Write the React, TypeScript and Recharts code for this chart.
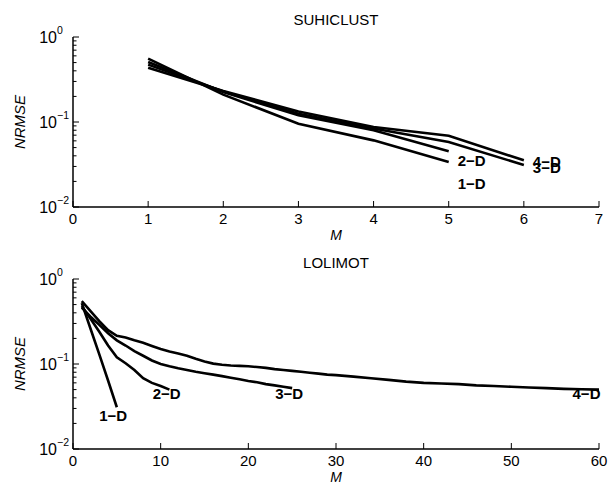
import React from 'react';
import { LineChart, Line, XAxis, YAxis, LabelList } from 'recharts';

// ---------- data ----------
const suhiM = [1, 2, 3, 4, 5, 6];
const suhi1D = [0.556, 0.21, 0.0955, 0.0608, 0.0339];
const suhi2D = [0.508, 0.225, 0.12, 0.08, 0.0452];
const suhi3D = [0.473, 0.228, 0.125, 0.084, 0.0582, 0.0312];
const suhi4D = [0.436, 0.232, 0.133, 0.0873, 0.069, 0.0354];

const loli1DM = [1, 2, 3, 4, 5];
const loli1D = [0.52, 0.26, 0.13, 0.064, 0.031];
const loli2DM = [1, 2, 3, 4, 5, 6, 7, 8, 9, 10, 11];
const loli2D = [0.48, 0.34, 0.24, 0.165, 0.12, 0.102, 0.085, 0.068, 0.06, 0.055, 0.05];
const loli3DM = [1, 2, 3, 4, 5, 6, 7, 8, 9, 10, 11, 12, 13, 14, 15, 16, 17, 18, 19, 20, 21, 22, 23, 24, 25];
const loli3D = [0.46, 0.36, 0.29, 0.23, 0.19, 0.165, 0.142, 0.125, 0.11, 0.1, 0.094, 0.089, 0.085, 0.081, 0.078, 0.075, 0.072, 0.069, 0.066, 0.063, 0.061, 0.058, 0.056, 0.054, 0.052];
const loli4DM = [1, 2, 3, 4, 5, 6, 7, 8, 9, 10, 11, 12, 13, 14, 15, 16, 17, 18, 19, 20, 21, 22, 23, 24, 25, 26, 27, 28, 29, 30, 32, 34, 36, 38, 40, 42, 44, 46, 48, 50, 52, 54, 56, 58, 60];
const loli4D = [0.55, 0.42, 0.32, 0.25, 0.215, 0.205, 0.19, 0.178, 0.163, 0.15, 0.14, 0.133, 0.125, 0.115, 0.107, 0.101, 0.098, 0.096, 0.095, 0.094, 0.092, 0.09, 0.087, 0.085, 0.083, 0.081, 0.079, 0.077, 0.075, 0.074, 0.071, 0.068, 0.065, 0.062, 0.06, 0.059, 0.058, 0.056, 0.055, 0.054, 0.053, 0.052, 0.051, 0.0505, 0.05];

const seriesNames = ['1−D', '2−D', '3−D', '4−D'];
const yTicks = [0.01, 0.02, 0.03, 0.04, 0.05, 0.06, 0.07, 0.08, 0.09, 0.1, 0.2, 0.3, 0.4, 0.5, 0.6, 0.7, 0.8, 0.9, 1];
const suhiXTicks = [0, 1, 2, 3, 4, 5, 6, 7];
const loliXTicks = [0, 10, 20, 30, 40, 50, 60];

const toPts = (ms: number[], vs: number[]) => vs.map((v, i) => ({ m: ms[i], v }));

// ---------- styling ----------
const W = 613;
const CH = 242;
const FONT = '"Liberation Sans", Arial, Helvetica, sans-serif';
const margin = { top: 37, right: 14, bottom: 0, left: 0 };

const isMajor = (v: number) => {
  const lg = Math.log10(v);
  return Math.abs(lg - Math.round(lg)) < 1e-6;
};

const LeftTick = (props: any) => {
  const { x, y, payload } = props;
  const v = payload.value;
  const major = isMajor(v);
  const e = Math.round(Math.log10(v));
  return (
    <g>
      <line x1={x} x2={x + (major ? 6 : 3.5)} y1={y} y2={y} stroke="#000" strokeWidth={1} />
      {major && (
        <text x={x - 16} y={y + 6} textAnchor="end" fontSize={16} fill="#000" fontFamily={FONT}>10</text>
      )}
      {major && (
        <text x={x - 16} y={y - 3} textAnchor="start" fontSize={10.5} fill="#000" fontFamily={FONT}>
          {e === 0 ? '0' : '−' + Math.abs(e)}
        </text>
      )}
    </g>
  );
};

const RightTick = (props: any) => {
  const { x, y, payload } = props;
  const major = isMajor(payload.value);
  return <line x1={x} x2={x - (major ? 6 : 3.5)} y1={y} y2={y} stroke="#000" strokeWidth={1} />;
};

const BottomTick = (props: any) => {
  const { x, y, payload } = props;
  return (
    <g>
      <line x1={x} x2={x} y1={y} y2={y - 6} stroke="#000" strokeWidth={1} />
      <text x={x} y={y + 17} textAnchor="middle" fontSize={15} fill="#000" fontFamily={FONT}>
        {payload.value}
      </text>
    </g>
  );
};

const TopTick = (props: any) => {
  const { x, y } = props;
  return <line x1={x} x2={x} y1={y} y2={y + 6} stroke="#000" strokeWidth={1} />;
};

const endLabel = (text: string, last: number, dx: number, dy: number, anchor: string) => (props: any) => {
  const { index } = props;
  if (index !== last) return null;
  const x = props.x ?? props.viewBox?.x;
  const y = props.y ?? props.viewBox?.y;
  if (x == null || y == null) return null;
  return (
    <text x={x + dx} y={y + dy} textAnchor={anchor as any} fontSize={15} fontWeight="bold" fill="#000" fontFamily={FONT}>
      {text}
    </text>
  );
};

type SeriesSpec = { data: { m: number; v: number }[]; name: string; dx: number; dy: number; anchor: string };

const Panel = ({ series, xDomain, xTicks }: { series: SeriesSpec[]; xDomain: [number, number]; xTicks: number[] }) => (
  <LineChart width={W} height={CH} margin={margin}>
    <XAxis
      xAxisId="b"
      type="number"
      dataKey="m"
      domain={xDomain}
      ticks={xTicks}
      interval={0}
      allowDataOverflow
      height={35}
      tickSize={0}
      tickMargin={0}
      tickLine={false}
      axisLine={{ stroke: '#000', strokeWidth: 1.5 }}
      tick={<BottomTick />}
    />
    <XAxis
      xAxisId="t"
      orientation="top"
      type="number"
      dataKey="m"
      domain={xDomain}
      ticks={xTicks}
      interval={0}
      allowDataOverflow
      height={0}
      tickSize={0}
      tickMargin={0}
      tickLine={false}
      axisLine={{ stroke: '#000', strokeWidth: 1.5 }}
      tick={<TopTick />}
    />
    <YAxis
      yAxisId="l"
      scale="log"
      type="number"
      domain={[0.01, 1]}
      ticks={yTicks}
      interval={0}
      allowDataOverflow
      width={73}
      tickSize={0}
      tickMargin={0}
      tickLine={false}
      axisLine={{ stroke: '#000', strokeWidth: 1.5 }}
      tick={<LeftTick />}
    />
    <YAxis
      yAxisId="r"
      orientation="right"
      scale="log"
      type="number"
      domain={[0.01, 1]}
      ticks={yTicks}
      interval={0}
      allowDataOverflow
      width={0}
      tickSize={0}
      tickMargin={0}
      tickLine={false}
      axisLine={{ stroke: '#000', strokeWidth: 1.5 }}
      tick={<RightTick />}
    />
    {series.map((s) => (
      <Line
        key={s.name}
        xAxisId="b"
        yAxisId="l"
        data={s.data}
        dataKey="v"
        type="linear"
        stroke="#000"
        strokeWidth={2.6}
        dot={false}
        isAnimationActive={false}
      >
        <LabelList dataKey="v" content={endLabel(s.name, s.data.length - 1, s.dx, s.dy, s.anchor)} />
      </Line>
    ))}
  </LineChart>
);

const suhiSeries: SeriesSpec[] = [
  { data: toPts(suhiM, suhi1D), name: seriesNames[0], dx: 9, dy: 27, anchor: 'start' },
  { data: toPts(suhiM, suhi2D), name: seriesNames[1], dx: 9, dy: 15, anchor: 'start' },
  { data: toPts(suhiM, suhi3D), name: seriesNames[2], dx: 9, dy: 8.5, anchor: 'start' },
  { data: toPts(suhiM, suhi4D), name: seriesNames[3], dx: 9, dy: 7, anchor: 'start' },
];

const loliSeries: SeriesSpec[] = [
  { data: toPts(loli1DM, loli1D), name: seriesNames[0], dx: -3.6, dy: 14, anchor: 'middle' },
  { data: toPts(loli2DM, loli2D), name: seriesNames[1], dx: -2.7, dy: 9.8, anchor: 'middle' },
  { data: toPts(loli3DM, loli3D), name: seriesNames[2], dx: -3, dy: 11.3, anchor: 'middle' },
  { data: toPts(loli4DM, loli4D), name: seriesNames[3], dx: -12.5, dy: 9.8, anchor: 'middle' },
];

const Overlay = () => (
  <svg width={W} height={CH * 2} style={{ position: 'absolute', left: 0, top: 0, pointerEvents: 'none' }}>
    <g fontFamily={FONT} fill="#000">
      <text x={336} y={25} textAnchor="middle" fontSize={15}>SUHICLUST</text>
      <text x={336} y={CH + 26} textAnchor="middle" fontSize={15}>LOLIMOT</text>
      <text x={336} y={CH - 2} textAnchor="middle" fontSize={14} fontStyle="italic">M</text>
      <text x={336} y={2 * CH - 2} textAnchor="middle" fontSize={14} fontStyle="italic">M</text>
      <text transform={`translate(25,122) rotate(-90)`} textAnchor="middle" fontSize={15} fontStyle="italic">NRMSE</text>
      <text transform={`translate(25,${CH + 122}) rotate(-90)`} textAnchor="middle" fontSize={15} fontStyle="italic">NRMSE</text>
    </g>
  </svg>
);

export default function App() {
  return (
    <div style={{ position: 'absolute', left: 0, top: 0, width: W, height: CH * 2, background: '#fff', fontFamily: FONT }}>
      <div style={{ position: 'absolute', left: 0, top: 0 }}>
        <Panel series={suhiSeries} xDomain={[0, 7]} xTicks={suhiXTicks} />
      </div>
      <div style={{ position: 'absolute', left: 0, top: CH }}>
        <Panel series={loliSeries} xDomain={[0, 60]} xTicks={loliXTicks} />
      </div>
      <Overlay />
    </div>
  );
}
